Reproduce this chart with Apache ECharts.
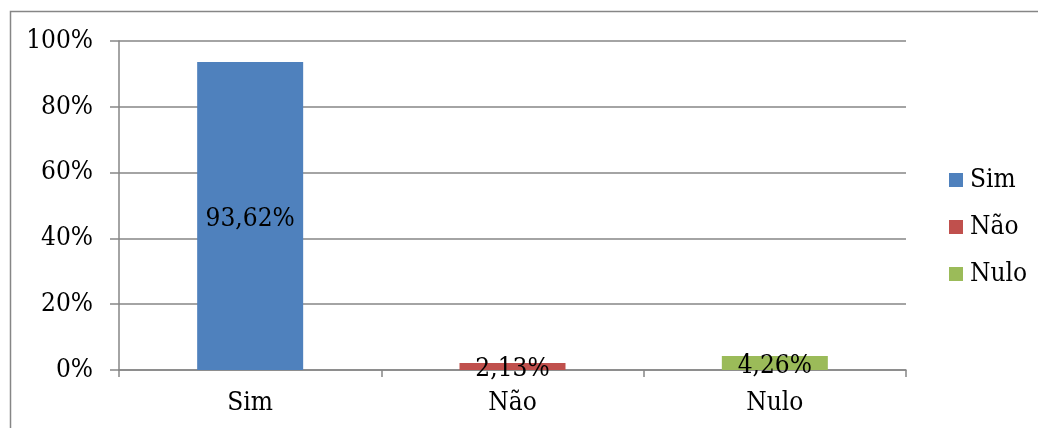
<!DOCTYPE html>
<html>
<head>
<meta charset="utf-8">
<script src="https://cdn.jsdelivr.net/npm/echarts@6/dist/echarts.min.js"></script>
<style>
html,body{margin:0;padding:0;background:#fff;}
#c{width:1038px;height:428px;}
</style>
</head>
<body>
<div id="c"></div>
<script>
var categories = ['Sim', 'Não', 'Nulo'];
var values = [93.62, 2.13, 4.26];
var colors = ['#4F81BD', '#C0504D', '#9BBB59'];
var yTicks = [0, 20, 40, 60, 80, 100];

var font = '"DejaVu Serif Condensed", "DejaVu Serif", serif';
var fs = 26;
var gray = '#868686';

var series = categories.map(function (name, i) {
  return {
    name: name,
    type: 'bar',
    stack: 'total',
    barWidth: 106,
    itemStyle: { color: colors[i] },
    label: {
      show: true,
      position: 'inside',
      offset: [0, 3],
      color: '#000',
      fontFamily: font,
      fontSize: fs,
      formatter: function (p) { return p.value.toFixed(2).replace('.', ',') + '%'; }
    },
    data: categories.map(function (c, j) { return j === i ? values[i] : '-'; })
  };
});

var chart = echarts.init(document.getElementById('c'));
chart.setOption({
  animation: false,
  textStyle: { fontFamily: font },
  graphic: [{
    type: 'rect',
    shape: { x: 10.5, y: 11.5, width: 1100, height: 600 },
    style: { fill: 'none', stroke: gray, lineWidth: 1.5 },
    silent: true
  }],
  grid: { left: 119, right: 132, top: 41, bottom: 58 },
  legend: {
    orient: 'vertical',
    left: 944,
    top: 161,
    itemWidth: 14,
    itemHeight: 14,
    itemGap: 19,
    icon: 'rect',
    textStyle: { fontFamily: font, fontSize: fs, color: '#000', lineHeight: 28, padding: [0, 0, 0, 2] },
    data: categories
  },
  xAxis: {
    type: 'category',
    data: categories,
    axisLine: { show: true, lineStyle: { color: gray, width: 1.5 } },
    axisTick: { show: true, length: 7, alignWithLabel: false, lineStyle: { color: gray, width: 1.5 } },
    axisLabel: { color: '#000', fontFamily: font, fontSize: fs, margin: 20 }
  },
  yAxis: {
    type: 'value',
    min: yTicks[0],
    max: yTicks[yTicks.length - 1],
    interval: 20,
    axisLine: { show: true, lineStyle: { color: gray, width: 1.5 } },
    axisTick: { show: true, length: 9, lineStyle: { color: gray, width: 1.5 } },
    axisLabel: { color: '#000', fontFamily: font, fontSize: fs, margin: 26, formatter: '{value}%' },
    splitLine: { show: true, lineStyle: { color: gray, width: 1.5 } }
  },
  series: series
});
</script>
</body>
</html>
